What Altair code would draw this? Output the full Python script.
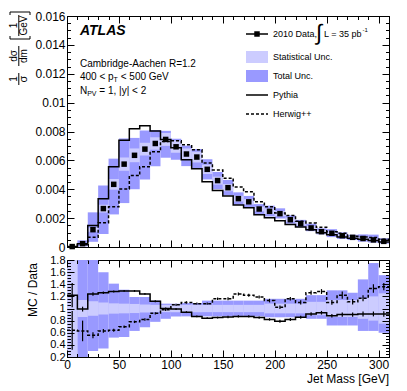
import altair as alt
import pandas as pd

FONT = "Liberation Sans"
DARK = "#9999ff"
LIGHT = "#ccccff"

# ---------------- data ----------------
bin_lo = list(range(0, 310, 10))
data_val = [0.00003, 0.00023, 0.00120, 0.00266, 0.00434, 0.00574, 0.00635, 0.00678,
            0.00717, 0.00745, 0.00694, 0.00644, 0.00623, 0.00538, 0.00460, 0.00411,
            0.00335, 0.00313, 0.00263, 0.00247, 0.00231, 0.00189, 0.00162, 0.00132,
            0.00106, 0.00095, 0.00078, 0.00067, 0.00059, 0.00049, 0.00039]
# statistical uncertainty, relative half width
stat_rel = [0.9, 0.14, 0.12, 0.10, 0.085, 0.08, 0.075, 0.065, 0.06, 0.06, 0.06, 0.06,
            0.06, 0.06, 0.06, 0.06, 0.06, 0.06, 0.06, 0.08, 0.08, 0.08, 0.08, 0.11,
            0.11, 0.14, 0.14, 0.14, 0.17, 0.20, 0.25]
# total uncertainty band (as MC/Data ratio edges)
tot_lo = [0.1, 0.2, 0.3, 0.34, 0.52, 0.53, 0.63, 0.69, 0.78, 0.83, 0.87, 0.87, 0.87,
          0.87, 0.87, 0.87, 0.87, 0.87, 0.87, 0.855, 0.855, 0.855, 0.855, 0.83, 0.83,
          0.72, 0.72, 0.72, 0.63, 0.63, 0.60]
tot_hi = [1.9, 2.0, 2.0, 1.60, 1.41, 1.31, 1.19, 1.19, 1.13, 1.08, 1.08, 1.09, 1.09,
          1.13, 1.13, 1.13, 1.13, 1.13, 1.13, 1.16, 1.16, 1.16, 1.16, 1.22, 1.22,
          1.30, 1.30, 1.26, 1.48, 1.75, 1.55]
pythia_top = [0.00004, 0.00023, 0.00149, 0.00335, 0.00556, 0.00740, 0.00819, 0.00840,
              0.00803, 0.00745, 0.00687, 0.00605, 0.00542, 0.00452, 0.00391, 0.00353,
              0.00291, 0.00272, 0.00224, 0.00203, 0.00182, 0.00155, 0.00139, 0.00120,
              0.00099, 0.00084, 0.00070, 0.00060, 0.00054, 0.00045, 0.00035]
herwig_top = [0.00002, 0.00015, 0.00067, 0.00168, 0.00278, 0.00402, 0.00495, 0.00556,
              0.00660, 0.00730, 0.00736, 0.00708, 0.00673, 0.00581, 0.00534, 0.00477,
              0.00415, 0.00382, 0.00313, 0.00279, 0.00236, 0.00219, 0.00178, 0.00166,
              0.00136, 0.00105, 0.00095, 0.00074, 0.00069, 0.00065, 0.00053]
pythia_ratio = [1.22, 0.99, 1.24, 1.26, 1.28, 1.29, 1.29, 1.24, 1.12, 1.00, 0.99, 0.94,
                0.87, 0.84, 0.85, 0.86, 0.87, 0.87, 0.85, 0.82, 0.79, 0.82, 0.855, 0.91,
                0.93, 0.88, 0.90, 0.90, 0.91, 0.91, 0.91]
herwig_ratio = [0.64, 0.63, 0.56, 0.63, 0.64, 0.70, 0.78, 0.82, 0.92, 0.98, 1.06, 1.10,
                1.08, 1.08, 1.16, 1.16, 1.24, 1.22, 1.19, 1.13, 1.02, 1.16, 1.10, 1.26,
                1.28, 1.10, 1.22, 1.11, 1.17, 1.33, 1.36]
pythia_ratio_err = [0.20, 0.04, 0.03, 0.02, 0.015, 0.015, 0.015, 0.015, 0.015, 0.015,
                    0.015, 0.015, 0.015, 0.015, 0.015, 0.02, 0.02, 0.02, 0.02, 0.02,
                    0.025, 0.025, 0.025, 0.03, 0.03, 0.03, 0.035, 0.035, 0.04, 0.04, 0.045]
herwig_ratio_err = [0.32, 0.17, 0.05, 0.03, 0.025, 0.02, 0.02, 0.02, 0.02, 0.02, 0.02,
                    0.02, 0.02, 0.02, 0.02, 0.025, 0.025, 0.025, 0.025, 0.03, 0.03, 0.03,
                    0.035, 0.035, 0.04, 0.04, 0.06, 0.045, 0.05, 0.07, 0.06]

x_major = [0, 50, 100, 150, 200, 250, 300]
x_minor = list(range(0, 311, 10))
yt_major = [round(0.002 * i, 3) for i in range(9)]
yt_minor = [round(0.0005 * i, 4) for i in range(33)]
yb_major = [round(0.2 + 0.2 * i, 1) for i in range(9)]
yb_minor = [round(0.2 + 0.05 * i, 2) for i in range(33)]

# ---------------- tables ----------------
bins = pd.DataFrame(dict(lo=bin_lo, hi=[b + 10 for b in bin_lo], mid=[b + 5 for b in bin_lo],
                         data=data_val, stat=stat_rel, tlo=tot_lo, thi=tot_hi,
                         pyr=pythia_ratio, hwr=herwig_ratio,
                         pye=pythia_ratio_err, hwe=herwig_ratio_err))
steps = pd.DataFrame(dict(x=bin_lo + [310],
                          py=pythia_top + [pythia_top[-1]],
                          hw=herwig_top + [herwig_top[-1]],
                          pyr=pythia_ratio + [pythia_ratio[-1]],
                          hwr=herwig_ratio + [herwig_ratio[-1]]))
one = pd.DataFrame({"k": [0]})

W, HT, HB = 322, 231, 97


def xsc():
    return alt.Scale(domain=[0, 310], nice=False, zero=False)


def ytsc():
    return alt.Scale(domain=[0, 0.016], nice=False)


def ybsc():
    return alt.Scale(domain=[0.2, 1.8], nice=False, zero=False)


def ax(orient, values, size, labels=False, fmt=None, fs=12):
    kw = dict(orient=orient, values=values, tickSize=size, offset=-size, domain=False,
              grid=False, labels=labels, title=None, ticks=True, tickColor="black",
              tickWidth=1, zindex=2)
    if labels:
        kw.update(labelFont=FONT, labelFontSize=fs, labelColor="black", labelPadding=2,
                  labelOverlap=False, labelFlush=False, format=fmt)
    return alt.Axis(**kw)


def txt(s, x, y, size=10, align="left", **kw):
    return alt.Chart(one).mark_text(text=s, font=FONT, fontSize=size, align=align,
                                    baseline="middle", color="black", **kw).encode(
        x=alt.value(x), y=alt.value(y))


def rule(x1, x2, y1, y2, **kw):
    return alt.Chart(one).mark_rule(color="black", **kw).encode(
        x=alt.value(x1), x2=alt.value(x2), y=alt.value(y1), y2=alt.value(y2))


def box(x1, x2, y1, y2, color):
    return alt.Chart(one).mark_rect(color=color).encode(
        x=alt.value(x1), x2=alt.value(x2), y=alt.value(y1), y2=alt.value(y2))


# ---------------- top panel ----------------
t_dark = alt.Chart(bins).transform_calculate(
    a="datum.data*datum.tlo", b="datum.data*datum.thi").mark_rect(color=DARK).encode(
    x=alt.X("lo:Q", scale=xsc(), axis=ax("bottom", x_major, 7)), x2="hi:Q",
    y=alt.Y("a:Q", scale=ytsc(), axis=ax("left", yt_major, 7, True, ".3~f")), y2="b:Q")
t_light = alt.Chart(bins).transform_calculate(
    a="datum.data*(1-datum.stat)", b="datum.data*(1+datum.stat)").mark_rect(color=LIGHT).encode(
    x=alt.X("lo:Q", scale=xsc(), axis=ax("bottom", x_minor, 3.5)), x2="hi:Q",
    y=alt.Y("a:Q", scale=ytsc(), axis=ax("left", yt_minor, 3.5)), y2="b:Q")
t_py = alt.Chart(steps).mark_line(interpolate="step-after", color="black", strokeWidth=1.5).encode(
    x=alt.X("x:Q", scale=xsc(), axis=ax("top", x_major, 7)),
    y=alt.Y("py:Q", scale=ytsc(), axis=ax("right", yt_major, 7)))
t_hw = alt.Chart(steps).mark_line(interpolate="step-after", color="black", strokeWidth=1.5,
                                  strokeDash=[3, 2]).encode(
    x=alt.X("x:Q", scale=xsc(), axis=ax("top", x_minor, 3.5)),
    y=alt.Y("hw:Q", scale=ytsc(), axis=ax("right", yt_minor, 3.5)))
t_pts = alt.Chart(bins).mark_point(shape="square", filled=True, size=30, color="black",
                                   opacity=1).encode(
    x=alt.X("mid:Q", scale=xsc(), axis=None),
    y=alt.Y("data:Q", scale=ytsc(), axis=None))

top_text = [
    txt("ATLAS", 13, 15, 14, fontStyle="italic", fontWeight="bold"),
    txt("Cambridge-Aachen R=1.2", 13, 48, 10),
    txt("400 < p", 13, 61, 10), txt("T", 46.6, 64, 7), txt("< 500 GeV", 53.7, 61, 10),
    txt("N", 13, 75, 10), txt("PV", 20.2, 78, 7), txt("= 1, |y| < 2", 32.3, 75, 10),
    # legend
    rule(179, 201, 18, 18, strokeWidth=1.5),
    alt.Chart(one).mark_point(shape="square", filled=True, size=30, color="black",
                              opacity=1).encode(x=alt.value(190), y=alt.value(18)),
    txt("2010 Data,", 206, 18, 9),
    txt("∫", 252, 17, 22, align="center"),
    txt("L = 35 pb", 257, 18, 9), txt("-1", 295.5, 14, 6),
    box(179, 201, 35, 47, LIGHT), txt("Statistical Unc.", 206, 41, 9),
    box(179, 201, 54, 66, DARK), txt("Total Unc.", 206, 60, 9),
    rule(179, 201, 79, 79, strokeWidth=1.5), txt("Pythia", 206, 79, 9),
    rule(179, 201, 98, 98, strokeWidth=1.5, strokeDash=[3, 2]), txt("Herwig++", 206, 98, 9),
    # y axis title  1/sigma dsigma/dm [1/GeV]
    txt("1", -53, 63, 10, align="center", angle=270),
    txt("σ", -43, 63, 11, align="center", angle=270),
    rule(-48.2, -48.2, 57, 69),
    txt("dσ", -53, 40, 10, align="center", angle=270),
    txt("dm", -43, 40, 10, align="center", angle=270),
    rule(-48.2, -48.2, 30, 50),
    txt("1", -53, 9.5, 10, align="center", angle=270),
    txt("GeV", -43, 9.5, 10, align="center", angle=270),
    rule(-48.2, -48.2, -1, 20),
    rule(-57, -37, 23, 23), rule(-57, -57, 20, 23), rule(-37, -37, 20, 23),
    rule(-57, -37, -4, -4), rule(-57, -57, -4, -1), rule(-37, -37, -4, -1),
]

top = alt.layer(t_dark, t_light, t_py, t_hw, t_pts, *top_text).resolve_scale(
    x="independent", y="independent").properties(width=W, height=HT)

# ---------------- ratio panel ----------------
b_dark = alt.Chart(bins).mark_rect(color=DARK, clip=True).encode(
    x=alt.X("lo:Q", scale=xsc(), axis=ax("bottom", x_major, 7, True, "d")), x2="hi:Q",
    y=alt.Y("tlo:Q", scale=ybsc(), axis=ax("left", yb_major, 7, True, ".1~f", fs=11)), y2="thi:Q")
b_light = alt.Chart(bins).transform_calculate(
    a="1-datum.stat", b="1+datum.stat").mark_rect(color=LIGHT, clip=True).encode(
    x=alt.X("lo:Q", scale=xsc(), axis=ax("bottom", x_minor, 3.5)), x2="hi:Q",
    y=alt.Y("a:Q", scale=ybsc(), axis=ax("left", yb_minor, 3.5)), y2="b:Q")
b_py = alt.Chart(steps).mark_line(interpolate="step-after", color="black", strokeWidth=1.5,
                                  clip=True).encode(
    x=alt.X("x:Q", scale=xsc(), axis=ax("top", x_major, 7)),
    y=alt.Y("pyr:Q", scale=ybsc(), axis=ax("right", yb_major, 7)))
b_hw = alt.Chart(steps).mark_line(interpolate="step-after", color="black", strokeWidth=1.5,
                                  strokeDash=[3, 2], clip=True).encode(
    x=alt.X("x:Q", scale=xsc(), axis=ax("top", x_minor, 3.5)),
    y=alt.Y("hwr:Q", scale=ybsc(), axis=ax("right", yb_minor, 3.5)))
b_pye = alt.Chart(bins).transform_calculate(
    a="datum.pyr-datum.pye", b="datum.pyr+datum.pye").mark_rule(color="black", strokeWidth=1.2,
                                                                 clip=True).encode(
    x=alt.X("mid:Q", scale=xsc(), axis=None),
    y=alt.Y("a:Q", scale=ybsc(), axis=None), y2="b:Q")
b_hwe = alt.Chart(bins).transform_calculate(
    a="datum.hwr-datum.hwe", b="datum.hwr+datum.hwe").mark_rule(color="black", strokeWidth=1.2,
                                                                 clip=True).encode(
    x=alt.X("mid:Q", scale=xsc(), axis=None),
    y=alt.Y("a:Q", scale=ybsc(), axis=None), y2="b:Q")

bot_text = [
    txt("MC / Data", -34, 30, 12, align="center", angle=270),
    txt("Jet Mass [GeV]", 322, 119, 12, align="right"),
]

bottom = alt.layer(b_dark, b_light, b_py, b_hw, b_pye, b_hwe, *bot_text).resolve_scale(
    x="independent", y="independent").properties(width=W, height=HB)

chart = alt.vconcat(top, bottom, spacing=13, bounds="flush").properties(
    padding={"left": 0, "top": 1, "right": 0, "bottom": 0},
    background="white",
).configure_view(stroke="black", strokeWidth=1)

chart.save("out.html", embed_options={"renderer": "svg", "actions": False})
